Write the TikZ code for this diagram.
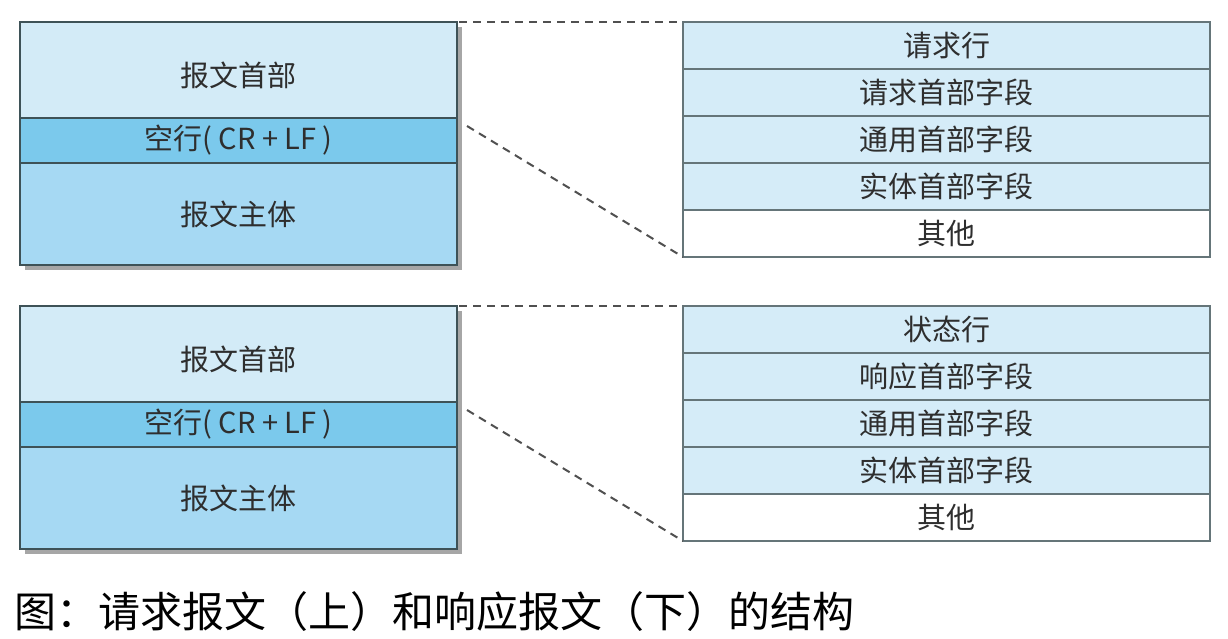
\documentclass[tikz,border=0pt]{standalone}
\usepackage{fontspec}
\setmainfont{Noto Sans CJK SC}
\newfontfamily\cjk{Noto Sans CJK SC}
\definecolor{headfill}{HTML}{D3EBF7}
\definecolor{blankfill}{HTML}{7BC9EC}
\definecolor{bodyfill}{HTML}{A6D9F3}
\definecolor{rowfill}{HTML}{D5ECF8}
\definecolor{edge}{HTML}{3E5257}
\definecolor{txt}{HTML}{2E2E2E}
\definecolor{dashcol}{HTML}{505050}
\tikzset{
  cell/.style={draw=edge, line width=1.6pt, inner sep=0pt, outer sep=0pt, anchor=north west,
    text=txt, font=\fontsize{29}{30}\selectfont},
  leftcell/.style={cell, minimum width=437pt},
  rightcell/.style={cell, minimum width=527pt, minimum height=47pt, draw=edge!80},
  label/.style={text=txt, font=\fontsize{29}{30}\selectfont, inner sep=0pt},
  link/.style={draw=dashcol, line width=2pt, dash pattern=on 8pt off 6pt}
}
\newcommand\httppanel[3]{%
  \begin{scope}[shift={(0,#1)}]
    \fill[gray!70] (25,27) rectangle (462,270);
    \node[leftcell, fill=headfill, minimum height=96pt] (#2h) at (20,22) {};
    \node[label] (#2ht) at ([yshift=-5pt]#2h.center) {报文首部};
    \node[leftcell, fill=blankfill, minimum height=45pt] (#2b) at (#2h.south west) {空行( CR + LF )};
    \node[leftcell, fill=bodyfill, minimum height=102pt] (#2m) at (#2b.south west) {报文主体};
    \node[rightcell, fill=rowfill] (#2r1) at (683,22) {#3};
    \node[rightcell, fill=rowfill] (#2r2) at (#2r1.south west) {};
    \node[rightcell, fill=rowfill] (#2r3) at (#2r2.south west) {通用首部字段};
    \node[rightcell, fill=rowfill] (#2r4) at (#2r3.south west) {实体首部字段};
    \node[rightcell, fill=white] (#2r5) at (#2r4.south west) {其他};
    \coordinate (#2a) at ([xshift=2pt]#2h.north east);
    \coordinate (#2c) at ([xshift=10pt,yshift=-8pt]#2b.north east);
    \draw[link] (#2a) -- (#2r1.north west);
    \draw[link] (#2c) -- (#2r5.south west);
  \end{scope}}
\begin{document}
\begin{tikzpicture}[x=1pt,y=-1pt]
\useasboundingbox[fill=white] (0,0) rectangle (1228,639);
\httppanel{0}{q}{请求行}
\node[label] (qr2t) at (qr2) {请求首部字段};
\httppanel{284}{p}{状态行}
\node[label] (pr2t) at (pr2) {响应首部字段};
\node[anchor=west, inner sep=0pt, font=\fontsize{42}{43}\selectfont] (cap) at (14,612) {图：请求报文（上）和响应报文（下）的结构};
\end{tikzpicture}
\end{document}
